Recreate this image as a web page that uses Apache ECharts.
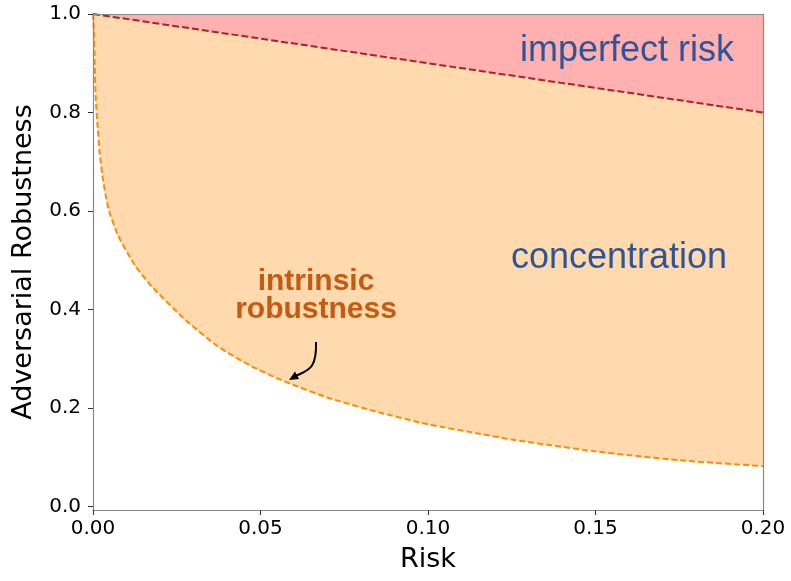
<!DOCTYPE html>
<html>
<head>
<meta charset="utf-8">
<script src="https://cdn.jsdelivr.net/npm/echarts@6/dist/echarts.min.js"></script>
<style>
  html, body { margin: 0; padding: 0; background: #fff; }
  #chart { width: 791px; height: 581px; }
</style>
</head>
<body>
<div id="chart"></div>
<script>
// risk values (x) and the intrinsic robustness curve
const riskGrid = [0, 0.0002, 0.0005, 0.0008, 0.0013, 0.002, 0.003, 0.0046, 0.0075, 0.0125,
    0.0175, 0.0274, 0.0373, 0.0473, 0.0572, 0.0706, 0.0855, 0.1004, 0.1153, 0.125,
    0.15, 0.175, 0.2];
const intrinsicRobustness = [1.0, 0.974, 0.90, 0.832, 0.778, 0.717, 0.663, 0.605, 0.550, 0.490,
    0.447, 0.380, 0.325, 0.285, 0.254, 0.220, 0.191, 0.1665, 0.148, 0.136,
    0.112, 0.094, 0.082];
// imperfect risk boundary (straight line)
const imperfectRisk = [1.0, 0.8];
const imperfectRiskX = [0, 0.2];
// tick labels
const xTicks = [0, 0.05, 0.1, 0.15, 0.2];
const yTicks = [0, 0.2, 0.4, 0.6, 0.8, 1.0];

const chart = echarts.init(document.getElementById('chart'), null, { renderer: 'canvas' });

const FONT = 'DejaVu Sans';
const spine = { show: true, onZero: false, lineStyle: { color: '#8a8a8a', width: 1.2 } };

const option = {
    backgroundColor: '#ffffff',
    animation: false,
    grid: { left: 93, right: 28, top: 14, bottom: 71 },
    xAxis: [
        {
            type: 'value', min: 0, max: 0.2, interval: 0.05, z: 10,
            axisLine: spine,
            axisTick: { show: true, inside: false, length: 5, lineStyle: { color: '#333' }, customValues: xTicks },
            axisLabel: {
                margin: 9, fontFamily: FONT, fontSize: 20, color: '#000',
                customValues: xTicks,
                formatter: v => v.toFixed(2)
            },
            splitLine: { show: false },
            name: 'Risk', nameLocation: 'middle', nameGap: 36,
            nameTextStyle: { fontFamily: FONT, fontSize: 27, color: '#000' }
        },
        {
            type: 'value', position: 'top', min: 0, max: 0.2, z: 10,
            axisLine: spine, axisTick: { show: false }, axisLabel: { show: false },
            splitLine: { show: false }
        }
    ],
    yAxis: [
        {
            type: 'value', min: -0.007, max: 1.0, z: 10,
            axisLine: spine,
            axisTick: { show: true, inside: false, length: 5, lineStyle: { color: '#333' }, customValues: yTicks },
            axisLabel: {
                margin: 12, fontFamily: FONT, fontSize: 20, color: '#000',
                customValues: yTicks,
                formatter: v => v.toFixed(1)
            },
            splitLine: { show: false },
            name: 'Adversarial Robustness', nameLocation: 'middle', nameGap: 56,
            nameTextStyle: { fontFamily: FONT, fontSize: 27, color: '#000' }
        },
        {
            type: 'value', position: 'right', min: -0.007, max: 1.0, z: 10,
            axisLine: spine, axisTick: { show: false }, axisLabel: { show: false },
            splitLine: { show: false }
        }
    ],
    series: [
        {
            // concentration region: from the intrinsic curve up to the top
            name: 'intrinsic robustness',
            type: 'line',
            z: 2,
            smooth: 0.2,
            showSymbol: false,
            data: riskGrid.map((r, i) => [r, intrinsicRobustness[i]]),
            lineStyle: { color: '#FF8C00', width: 2, type: [6, 3] },
            areaStyle: { origin: 'end', color: '#FEDAAE', opacity: 1 }
        },
        {
            // imperfect risk region: above the dashed red line
            name: 'imperfect risk',
            type: 'line',
            z: 3,
            showSymbol: false,
            data: imperfectRiskX.map((r, i) => [r, imperfectRisk[i]]),
            lineStyle: { color: '#B22222', width: 2, type: [7, 3] },
            areaStyle: { origin: 'end', color: '#FFB0B0', opacity: 1 }
        }
    ],
    graphic: [
        {
            type: 'text', left: 520, top: 33, z: 20,
            style: { text: 'imperfect risk', font: '36px "Liberation Sans", Arial', fill: '#2F5597' }
        },
        {
            type: 'text', left: 511, top: 240, z: 20,
            style: { text: 'concentration', font: '36px "Liberation Sans", Arial', fill: '#2F5597' }
        },
        {
            type: 'text', x: 316, y: 268, z: 20,
            style: {
                text: 'intrinsic\nrobustness', font: 'bold 30px "Liberation Sans", Arial',
                fill: '#C55A11', align: 'center', lineHeight: 28
            }
        },
        {
            type: 'bezierCurve', z: 20,
            shape: { x1: 316, y1: 342, cpx1: 317, cpy1: 372, cpx2: 306, cpy2: 370, x2: 294, y2: 377 },
            style: { stroke: '#000', lineWidth: 2, fill: null }
        },
        {
            type: 'polygon', z: 20,
            shape: { points: [[289, 380], [299, 379], [295, 371.5]] },
            style: { fill: '#000' }
        }
    ]
};

chart.setOption(option);
</script>
</body>
</html>
